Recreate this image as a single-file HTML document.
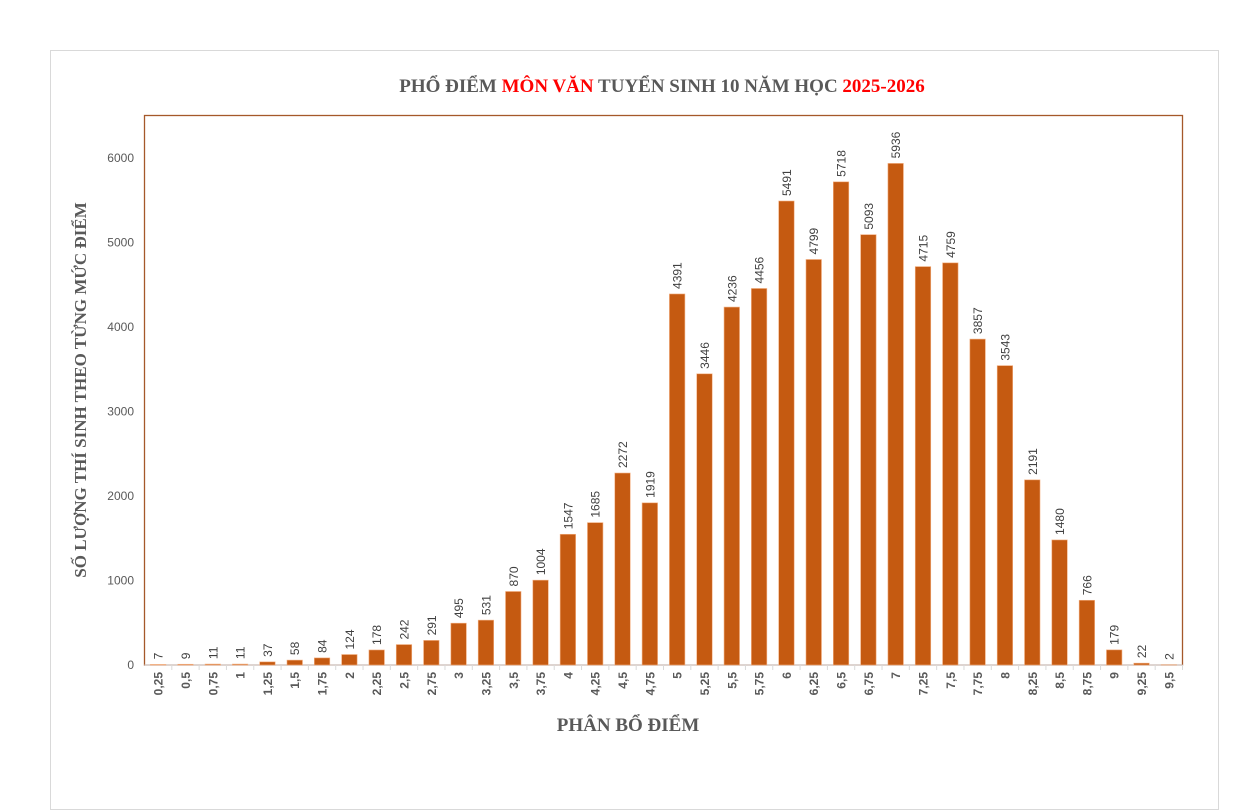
<!DOCTYPE html>
<html><head><meta charset="utf-8"><style>
body{margin:0;background:#fff;width:1250px;height:791px;overflow:hidden;font-family:"Liberation Sans",sans-serif}
#frame{position:absolute;left:50px;top:50px;width:1169px;height:760px;border:1px solid #d9d9d9;box-sizing:border-box}
</style></head><body>
<div id="frame"></div>
<svg width="1250" height="791" style="position:absolute;left:0;top:0">
<text x="662" y="92" text-anchor="middle" font-family="Liberation Serif" font-weight="bold" font-size="19" fill="#595959">PHỔ ĐIỂM <tspan fill="#ff0000">MÔN VĂN</tspan> TUYỂN SINH 10 NĂM HỌC <tspan fill="#ff0000">2025-2026</tspan></text>
<text transform="translate(86,390) rotate(-90)" text-anchor="middle" font-family="Liberation Serif" font-weight="bold" font-size="17" fill="#595959">SỐ LƯỢNG THÍ SINH THEO TỪNG MỨC ĐIỂM</text>
<text x="628" y="731" text-anchor="middle" font-family="Liberation Serif" font-weight="bold" font-size="19" fill="#595959">PHÂN BỔ ĐIỂM</text>
<g id="plot"></g>
</svg>
<script>
const categories=["0,25","0,5","0,75","1","1,25","1,5","1,75","2","2,25","2,5","2,75","3","3,25","3,5","3,75","4","4,25","4,5","4,75","5","5,25","5,5","5,75","6","6,25","6,5","6,75","7","7,25","7,5","7,75","8","8,25","8,5","8,75","9","9,25","9,5"];
const counts=[7,9,11,11,37,58,84,124,178,242,291,495,531,870,1004,1547,1685,2272,1919,4391,3446,4236,4456,5491,4799,5718,5093,5936,4715,4759,3857,3543,2191,1480,766,179,22,2];
const yTicks=[0,1000,2000,3000,4000,5000,6000];
const L=144.5,R=1182.5,T=115.5,B=665;
const yMax=6000,yPx=507;
const y=v=>B-v*yPx/yMax;
const step=(R-L)/categories.length;
const x=i=>L+step*(i+0.5);
const ns="http://www.w3.org/2000/svg";
const g=document.getElementById('plot');
function mk(t,a){const e=document.createElementNS(ns,t);for(const k in a)e.setAttribute(k,a[k]);g.appendChild(e);return e;}
let e=mk('rect',{x:L,y:T,width:R-L,height:B-T,fill:'none',stroke:'#a5582a','stroke-width':1.3});


e=mk('line',{x1:L,x2:R,y1:B,y2:B,stroke:'#d9d9d9','stroke-width':1.3});


yTicks.forEach(v=>{
  const t=mk('text',{x:134,y:y(v)+4,'text-anchor':'end','font-size':12,fill:'#595959'});
  t.textContent=v;
  
  
});
categories.forEach((c,i)=>{
  const tk=mk('line',{x1:L+step*(i+1),x2:L+step*(i+1),y1:B,y2:B+5,stroke:'#d9d9d9'});
  
  
  const v=counts[i];
  const bw=15.5;
  const b=mk('rect',{x:x(i)-bw/2,y:y(v),width:bw,height:B-y(v),fill:'#c55a11',stroke:'#f4b183','stroke-width':0.6});
  
  
  const lb=mk('text',{transform:`translate(${x(i)+4.5},${y(v)-5}) rotate(-90)`,'font-size':12,fill:'#404040'});
  lb.textContent=v;
  
  
  const cl=mk('text',{transform:`translate(${x(i)+4.5},${B+7}) rotate(-90)`,'text-anchor':'end','font-size':12,'font-weight':'bold',fill:'#595959'});
  cl.textContent=c;
  
  
});
</script>
</body></html>
